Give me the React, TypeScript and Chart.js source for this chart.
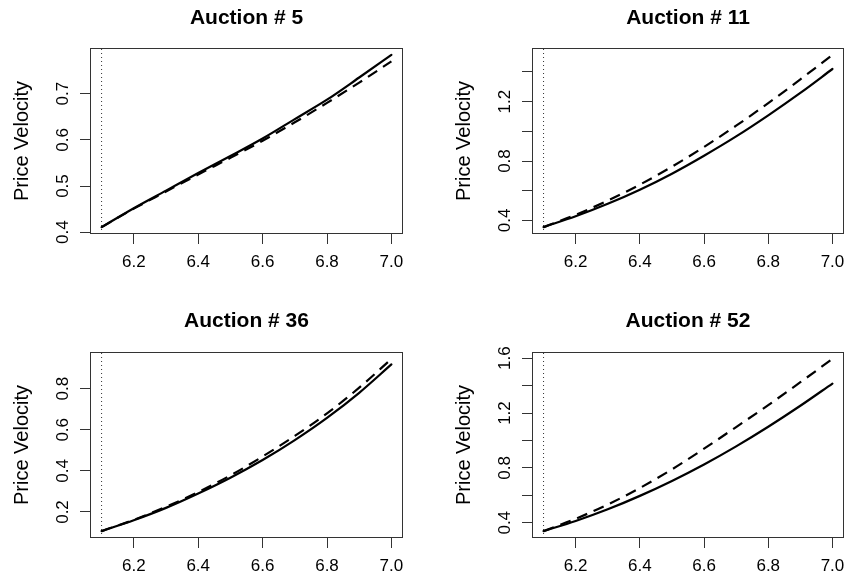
import React, { useEffect, useRef } from "react";
import { Chart, registerables } from "chart.js";

Chart.register(...registerables);

// ---- data ----
const xValues = [6.1, 6.2, 6.3, 6.4, 6.5, 6.6, 6.7, 6.8, 6.9, 7.0];
const vLineX = 6.1;
const xTicks = [6.2, 6.4, 6.6, 6.8, 7.0];
const xTickLabels = ["6.2", "6.4", "6.6", "6.8", "7.0"];
const yAxisLabel = "Price Velocity";

const titles = ["Auction # 5", "Auction # 11", "Auction # 36", "Auction # 52"];

const a5Solid = [0.411, 0.452, 0.49, 0.528, 0.565, 0.603, 0.645, 0.687, 0.735, 0.784];
const a5Dashed = [0.411, 0.451, 0.488, 0.525, 0.561, 0.598, 0.638, 0.68, 0.724, 0.77];
const a11Solid = [0.355, 0.428, 0.512, 0.607, 0.715, 0.836, 0.966, 1.108, 1.259, 1.42];
const a11Dashed = [0.355, 0.438, 0.533, 0.641, 0.762, 0.895, 1.038, 1.19, 1.35, 1.515];
const a36Solid = [0.107, 0.16, 0.22, 0.29, 0.367, 0.453, 0.55, 0.658, 0.78, 0.918];
const a36Dashed = [0.107, 0.162, 0.225, 0.297, 0.378, 0.47, 0.57, 0.68, 0.805, 0.945];
const a52Solid = [0.339, 0.413, 0.498, 0.596, 0.705, 0.825, 0.957, 1.1, 1.253, 1.415];
const a52Dashed = [0.339, 0.429, 0.533, 0.653, 0.789, 0.94, 1.098, 1.258, 1.425, 1.595];

const a5YTicks = [0.4, 0.5, 0.6, 0.7];
const a5YLabels = ["0.4", "0.5", "0.6", "0.7"];
const a11YTicks = [0.4, 0.6, 0.8, 1.0, 1.2, 1.4];
const a11YLabels = ["0.4", "", "0.8", "", "1.2", ""];
const a36YTicks = [0.2, 0.4, 0.6, 0.8];
const a36YLabels = ["0.2", "0.4", "0.6", "0.8"];
const a52YTicks = [0.4, 0.6, 0.8, 1.0, 1.2, 1.4, 1.6];
const a52YLabels = ["0.4", "", "0.8", "", "1.2", "", "1.6"];

// ---- layout (styles / positions) ----
const FONT = "'Liberation Sans', Arial, Helvetica, sans-serif";
const TICK_SIZE = 17;
const LAB_SIZE = 20;
const TITLE_SIZE = 21;
const Y_AXIS_W = 90;

type PanelCfg = {
  title: string;
  solid: number[];
  dashed: number[];
  yTicks: number[];
  yLabels: string[];
  left: number;
  top: number;
  w: number;
  h: number;
  box: { l: number; t: number; r: number; b: number };
  titleMid: number;
};

const panels: PanelCfg[] = [
  { title: titles[0], solid: a5Solid, dashed: a5Dashed, yTicks: a5YTicks, yLabels: a5YLabels,
    left: 0, top: 0, w: 424, h: 290, box: { l: 90, t: 48, r: 403, b: 234 }, titleMid: 18 },
  { title: titles[1], solid: a11Solid, dashed: a11Dashed, yTicks: a11YTicks, yLabels: a11YLabels,
    left: 424, top: 0, w: 425, h: 290, box: { l: 108, t: 48, r: 420, b: 234 }, titleMid: 18 },
  { title: titles[2], solid: a36Solid, dashed: a36Dashed, yTicks: a36YTicks, yLabels: a36YLabels,
    left: 0, top: 290, w: 424, h: 291, box: { l: 90, t: 62, r: 403, b: 248 }, titleMid: 31 },
  { title: titles[3], solid: a52Solid, dashed: a52Dashed, yTicks: a52YTicks, yLabels: a52YLabels,
    left: 424, top: 290, w: 425, h: 291, box: { l: 108, t: 62, r: 420, b: 248 }, titleMid: 31 },
];

const boxPlugin = {
  id: "rbox",
  afterDatasetsDraw(chart: any) {
    const { ctx, chartArea: a } = chart;
    ctx.save();
    ctx.strokeStyle = "#333";
    ctx.lineWidth = 1;
    const l = Math.round(a.left) + 0.5;
    const t = Math.round(a.top) + 0.5;
    const r = Math.round(a.right) - 0.5;
    const b = Math.round(a.bottom) - 0.5;
    ctx.strokeRect(l, t, r - l, b - t);
    ctx.restore();
  },
};

function Panel({ cfg }: { cfg: PanelCfg }) {
  const ref = useRef<HTMLCanvasElement>(null);
  useEffect(() => {
    if (!ref.current) return;
    const xLo = xValues[0];
    const xHi = xValues[xValues.length - 1];
    const xPad = (xHi - xLo) * 0.04;
    const all = cfg.solid.concat(cfg.dashed);
    const yLo = Math.min(...all);
    const yHi = Math.max(...all);
    const yPad = (yHi - yLo) * 0.04;
    const yMin = yLo - yPad;
    const yMax = yHi + yPad;
    const titleLH = TITLE_SIZE * 1.2;
    const titleTop = cfg.titleMid - titleLH / 2;

    const chart = new Chart(ref.current, {
      type: "line",
      data: {
        datasets: [
          {
            data: xValues.map((x, i) => ({ x, y: cfg.solid[i] })),
            borderColor: "#000",
            borderWidth: 2.2,
            pointRadius: 0,
            cubicInterpolationMode: "monotone",
            borderCapStyle: "round",
          },
          {
            data: xValues.map((x, i) => ({ x, y: cfg.dashed[i] })),
            borderColor: "#000",
            borderWidth: 2.2,
            borderDash: [11, 7],
            pointRadius: 0,
            cubicInterpolationMode: "monotone",
          },
          {
            data: [
              { x: vLineX, y: yMin },
              { x: vLineX, y: yMax },
            ],
            borderColor: "#333",
            borderWidth: 1,
            borderDash: [1, 3],
            pointRadius: 0,
          },
        ],
      },
      options: {
        animation: false,
        responsive: false,
        devicePixelRatio: 1,
        layout: {
          padding: { left: cfg.box.l - Y_AXIS_W, right: cfg.w - cfg.box.r, top: 0, bottom: 0 },
        },
        plugins: {
          legend: { display: false },
          tooltip: { enabled: false },
          title: {
            display: true,
            text: cfg.title,
            fullSize: false,
            color: "#000",
            font: { family: FONT, size: TITLE_SIZE, weight: "bold" },
            padding: { top: titleTop, bottom: cfg.box.t - titleTop - titleLH },
          },
        },
        scales: {
          x: {
            type: "linear",
            min: xLo - xPad,
            max: xHi + xPad,
            afterBuildTicks: (s: any) => {
              s.ticks = xTicks.map((v) => ({ value: v }));
            },
            afterFit: (s: any) => {
              s.height = cfg.h - cfg.box.b;
              s.paddingLeft = 0;
              s.paddingRight = 0;
            },
            ticks: {
              autoSkip: false,
              maxRotation: 0,
              minRotation: 0,
              padding: 8,
              color: "#000",
              font: { family: FONT, size: TICK_SIZE },
              callback: (_v: any, i: number) => xTickLabels[i],
            },
            grid: { drawOnChartArea: false, drawTicks: true, tickLength: 10, color: "#333", lineWidth: 1 },
            border: { display: false },
          },
          y: {
            type: "linear",
            min: yMin,
            max: yMax,
            afterBuildTicks: (s: any) => {
              s.ticks = cfg.yTicks.map((v) => ({ value: v }));
            },
            afterFit: (s: any) => {
              s.width = Y_AXIS_W;
              s.paddingTop = 0;
              s.paddingBottom = 0;
            },
            ticks: {
              autoSkip: false,
              minRotation: 90,
              maxRotation: 90,
              crossAlign: "center",
              padding: 5,
              color: "#000",
              font: { family: FONT, size: TICK_SIZE },
              callback: (_v: any, i: number) => cfg.yLabels[i],
            },
            grid: { drawOnChartArea: false, drawTicks: true, tickLength: 10, color: "#333", lineWidth: 1 },
            border: { display: false },
            title: {
              display: true,
              text: yAxisLabel,
              color: "#000",
              font: { family: FONT, size: LAB_SIZE },
              padding: { top: 10, bottom: 0 },
            },
          },
        },
      },
      plugins: [boxPlugin],
    } as any);
    return () => chart.destroy();
  }, [cfg]);

  return (
    <canvas
      ref={ref}
      width={cfg.w}
      height={cfg.h}
      style={{ position: "absolute", left: cfg.left, top: cfg.top, width: cfg.w, height: cfg.h }}
    />
  );
}

export default function App() {
  return (
    <div
      style={{
        position: "fixed",
        left: 0,
        top: 0,
        width: 849,
        height: 581,
        background: "#fff",
        overflow: "hidden",
      }}
    >
      {panels.map((p) => (
        <Panel key={p.title} cfg={p} />
      ))}
    </div>
  );
}
